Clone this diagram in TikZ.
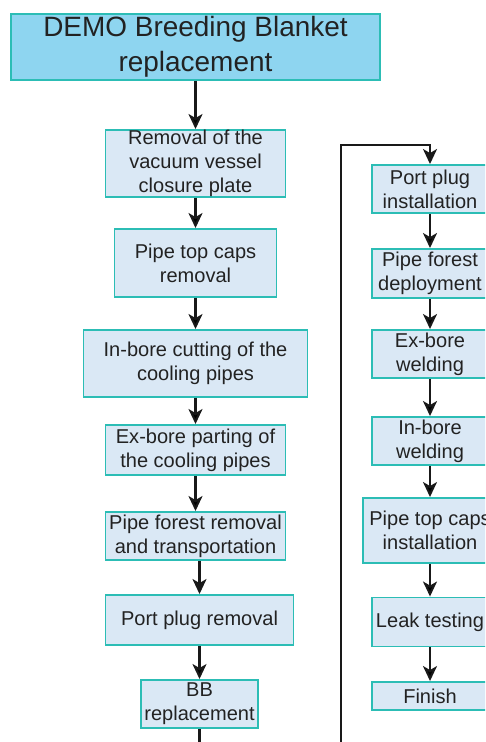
\documentclass[tikz,border=0pt]{standalone}
\usepackage{fontspec}
\setmainfont{Liberation Sans}
\usetikzlibrary{arrows.meta,positioning}

\definecolor{boxfill}{HTML}{DAE8F5}
\definecolor{boxline}{HTML}{2CBDB5}
\definecolor{headfill}{HTML}{8ED5F0}
\definecolor{txt}{HTML}{222222}

\tikzset{
  task/.style={draw=boxline, fill=boxfill, line width=1.1pt, text=txt,
    align=center, inner sep=0pt, font=\fontsize{11.4}{13.7}\selectfont},
  flow/.style={-{Stealth[length=0.3cm,width=0.28cm,inset=0.08cm]},
    line width=1.15pt, draw=black!90},
}

\begin{document}
\begin{tikzpicture}[node distance=1.7cm, on grid]
            \useasboundingbox (0,0) rectangle (9.7,-14.84);
            \clip (0,0) rectangle (9.7,-14.84);
            % removal sequence
            \node[task, fill=headfill, minimum width=7.38cm, minimum height=1.32cm,
                  font=\fontsize{15.9}{19.9}\selectfont] (0) at (3.91,-0.94) {DEMO Breeding Blanket\\replacement};
            \node[task, below=2.33cm of 0, minimum width=3.6cm, minimum height=1.34cm] (1) {Removal of the\\vacuum vessel\\closure plate};
            \node[task, below=1.99cm of 1, minimum width=3.24cm, minimum height=1.36cm] (2) {Pipe top caps\\removal};
            \node[task, below=2.01cm of 2, minimum width=4.48cm, minimum height=1.34cm] (3) {In-bore cutting of the\\cooling pipes};
            \node[task, below=1.73cm of 3, minimum width=3.6cm, minimum height=1cm] (4) {Ex-bore parting of\\the cooling pipes};
            \node[task, below=1.72cm of 4, minimum width=3.6cm, minimum height=0.96cm] (5) {Pipe forest removal\\and transportation};
            \node[task, below=1.68cm of 5, xshift=0.08cm, minimum width=3.76cm, minimum height=1cm] (6) {Port plug removal};
            \node[task, below=1.68cm of 6, minimum width=2.34cm, minimum height=0.96cm] (7) {BB\\replacement};
            % installation sequence
            \node[task, minimum width=2.32cm, minimum height=0.96cm] (8) at (8.6,-3.78) {Port plug\\installation};
            \node[task, below=1.69cm of 8, minimum width=2.32cm, minimum height=0.98cm] (9) {Pipe forest\\deployment};
            \node[task, below=1.61cm of 9, minimum width=2.32cm, minimum height=0.96cm] (10) {Ex-bore\\welding};
            \node[task, below=1.74cm of 10, minimum width=2.32cm, minimum height=0.96cm] (11) {In-bore\\welding};
            \node[task, below=1.79cm of 11, minimum width=2.68cm, minimum height=1.3cm] (12) {Pipe top caps\\installation};
            \node[task, below=1.83cm of 12, minimum width=2.32cm, minimum height=0.98cm] (13) {Leak testing};
            \node[task, below=1.48cm of 13, minimum width=2.32cm, minimum height=0.56cm] (14) {Finish};
            \path[flow] (0) edge (1);
            \path[flow] (1) edge (2);
            \path[flow] (2) edge (3);
            \path[flow] (3) edge (4);
            \path[flow] (4) edge (5);
            \draw[flow] (6.north |- 5.south) -- (6);
            \path[flow] (6) edge (7);
            \draw[flow] (7.south) -- ++(0,-0.6) -| (6.82,-2.9) -| (8);
            \path[flow] (8) edge (9);
            \path[flow] (9) edge (10);
            \path[flow] (10) edge (11);
            \path[flow] (11) edge (12);
            \path[flow] (12) edge (13);
            \path[flow] (13) edge (14);
        \end{tikzpicture}
\end{document}
